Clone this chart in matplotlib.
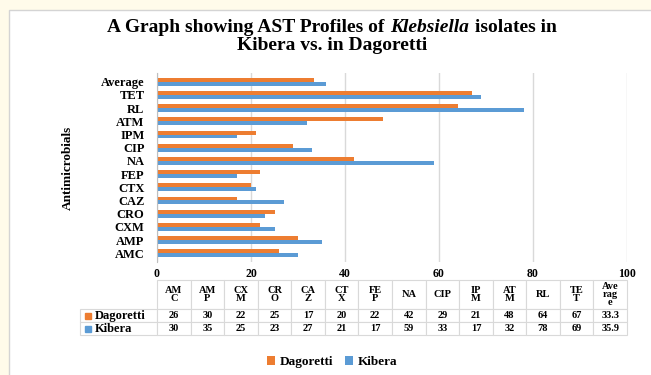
import matplotlib
matplotlib.use("Agg")
import matplotlib.pyplot as plt
import numpy as np
from matplotlib.patches import Rectangle

categories = ["AMC", "AMP", "CXM", "CRO", "CAZ", "CTX", "FEP", "NA", "CIP",
              "IPM", "ATM", "RL", "TET", "Average"]
header_labels = ["AM\nC", "AM\nP", "CX\nM", "CR\nO", "CA\nZ", "CT\nX", "FE\nP",
                 "NA", "CIP", "IP\nM", "AT\nM", "RL", "TE\nT", "Ave\nrag\ne"]
dagoretti = [26, 30, 22, 25, 17, 20, 22, 42, 29, 21, 48, 64, 67, 33.3]
kibera = [30, 35, 25, 23, 27, 21, 17, 59, 33, 17, 32, 78, 69, 35.9]
series_names = ["Dagoretti", "Kibera"]

ORANGE = "#ED7D31"
BLUE = "#5B9BD5"
SERIF = "Liberation Serif"
W, H = 651, 375

plt.rcParams["font.family"] = SERIF
plt.rcParams["font.weight"] = "bold"

fig = plt.figure(figsize=(W / 100, H / 100), dpi=100)
fig.patch.set_facecolor("#fffbea")
fig.add_artist(Rectangle((9 / W, -0.05), 1.0, (H - 10) / H + 0.05,
                         transform=fig.transFigure, facecolor="white",
                         edgecolor="#d4d4d4", lw=1, zorder=-10))

# plot area in pixels: x 157..627, y 73..262
ax_l, ax_r, ax_t, ax_b = 157, 627, 73, 262
ax = fig.add_axes([ax_l / W, 1 - ax_b / H, (ax_r - ax_l) / W, (ax_b - ax_t) / H])
ax.patch.set_alpha(0)

y = np.arange(len(categories))
h = 0.3
ax.barh(y + h / 2, dagoretti, height=h, color=ORANGE, label=series_names[0])
ax.barh(y - h / 2, kibera, height=h, color=BLUE, label=series_names[1])

ax.set_xlim(0, 100)
ax.set_xticks(range(0, 101, 20))
ax.set_ylim(-0.66, len(categories) - 0.34)
ax.set_yticks(y, categories)
ax.grid(axis="x", color="#d9d9d9", lw=1)
ax.set_axisbelow(True)
for s in ("top", "right", "bottom"):
    ax.spines[s].set_visible(False)
ax.spines["left"].set_color("#bfbfbf")
ax.tick_params(axis="y", length=0, pad=9, labelsize=9)
ax.tick_params(axis="x", length=0, pad=4, labelsize=8.5)
for lab in ax.get_xticklabels() + ax.get_yticklabels():
    lab.set_fontweight("bold")

px_w = ax_r - ax_l
px_h = ax_b - ax_t
ax.set_ylabel("Antimicrobials", fontsize=9.5, fontweight="bold")
ax.yaxis.set_label_coords((74 - ax_l) / px_w, 0.5)

# data table under the plot, pixel layout
tbl_l, tbl_t, head_h, row_h = 80, 280, 29, 13
tbl_b = tbl_t + head_h + 2 * row_h
fmt = lambda v: f"{v:g}"
cell_text = [[name] + [fmt(v) for v in vals]
             for name, vals in zip(series_names, [dagoretti, kibera])]
col_w = [ax_l - tbl_l] + [px_w / len(categories)] * len(categories)
tbl = ax.table(cellText=cell_text, colLabels=[""] + header_labels,
               colWidths=col_w, cellLoc="center",
               bbox=[(tbl_l - ax_l) / px_w, (ax_b - tbl_b) / px_h,
                     (ax_r - tbl_l) / px_w, (tbl_b - tbl_t) / px_h])
tbl.auto_set_font_size(False)
tbl.set_fontsize(7.5)
for (r, c), cell in tbl.get_celld().items():
    cell.set_height(head_h if r == 0 else row_h)
    cell.set_edgecolor("#d9d9d9")
    cell.set_linewidth(0.8)
    t = cell.get_text()
    t.set_fontweight("bold")
    t.set_linespacing(0.85)
    if r == 0 and c == 0:
        cell.visible_edges = ""
    if c == 0 and r > 0:
        t.set_horizontalalignment("left")
        t.set_fontsize(9)
        cell.PAD = 0.19

# legend keys inside the row-label cells
for i, col in enumerate([ORANGE, BLUE]):
    cy = tbl_t + head_h + row_h * (i + 0.5)
    ax.plot([(87.5 - ax_l) / px_w], [(ax_b - cy) / px_h], marker="s", ms=4.5,
            color=col, transform=ax.transAxes, clip_on=False)

fig.legend(loc="center", bbox_to_anchor=(332 / W, 1 - 362 / H), ncol=2,
           frameon=False, prop={"family": SERIF, "weight": "bold", "size": 9.5},
           handlelength=0.6, handleheight=0.6, columnspacing=0.9,
           handletextpad=0.35)

# two-line title with an italic genus name
title_size = 14
fig.canvas.draw()
renderer = fig.canvas.get_renderer()
pieces = [("A Graph showing AST Profiles of", "normal"),
          ("Klebsiella", "italic"), ("isolates in", "normal")]
texts = []
for s, style in pieces:
    texts.append(fig.text(0, 1 - 27 / H, s, fontsize=title_size, style=style,
                          fontweight="bold", va="center", ha="left"))
space = 0.28 * title_size * 100 / 72
widths = [t.get_window_extent(renderer).width for t in texts]
total = sum(widths) + space * (len(widths) - 1)
x = 332 - total / 2
for t, w in zip(texts, widths):
    t.set_x(x / W)
    x += w + space
fig.text(332 / W, 1 - 45 / H, "Kibera vs. in Dagoretti", fontsize=title_size,
         fontweight="bold", ha="center", va="center")

fig.savefig("out.png", dpi=100, facecolor=fig.get_facecolor())
